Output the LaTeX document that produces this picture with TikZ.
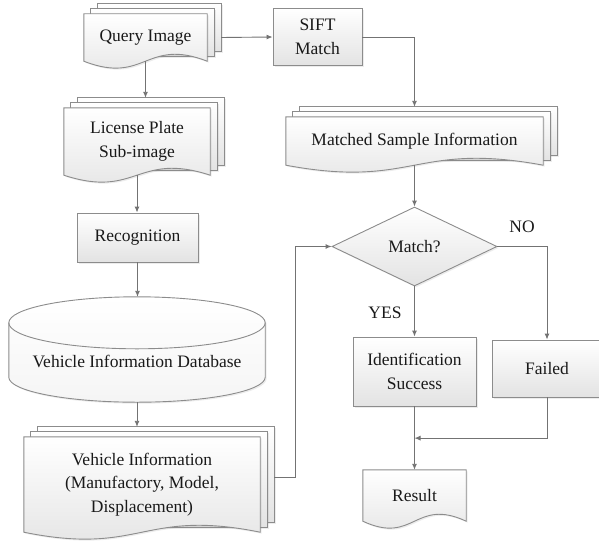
\documentclass[tikz,border=0pt]{standalone}
\usepackage{fontspec}
\setmainfont{Liberation Serif}
\usetikzlibrary{shapes.geometric,arrows.meta,calc,backgrounds,shadows}

\tikzset{
  flowline/.style={draw=black!55, line width=0.9pt},
  arr/.style={flowline, -{Latex[length=6pt,width=5pt]}},
  boxfill/.style={draw=black!45, line width=0.9pt, top color=white, bottom color=black!11,
    drop shadow={opacity=0.15, shadow xshift=1.5pt, shadow yshift=-1.5pt}},
  docnode/.style={rectangle, inner sep=2pt, align=center},
  procbox/.style={rectangle, boxfill, inner sep=2pt, align=center},
  decbox/.style={diamond, boxfill, inner sep=0pt, minimum width=165pt, minimum height=79pt},
  lbl/.style={inner sep=1pt}
}

% back sheet of a stack, k steps behind the front one
\newcommand\backsheet[2]{%
  \path[boxfill] let \p1=(#1.south west), \p2=(#1.north east) in
    (\x1+#2*7pt,\y1+#2*5pt) rectangle (\x2+#2*7pt,\y2+#2*5pt);}
% front sheet with the wavy bottom
\newcommand\docfront[1]{%
  \path[boxfill] let \p1=(#1.south west), \p2=(#1.north east) in
    (\x1,\y2) -- (\x2,\y2) -- (\x2,\y1)
    .. controls ({(\x1+\x2)/2},\y1+24pt) and ({(\x1+\x2)/2},\y1-24pt) .. (\x1,\y1) -- cycle;}
\newcommand\docstack[1]{\backsheet{#1}{2}\backsheet{#1}{1}\docfront{#1}}
% database drum
\newcommand\dbdrum[1]{%
  \path[boxfill, top color=white, bottom color=black!4] let \p1=(#1.south west), \p2=(#1.north east), \n1={(\x2-\x1)/2} in
    (\x1,\y2-26pt) -- (\x1,\y1+25pt) arc[start angle=180, end angle=360, x radius=\n1, y radius=25pt]
    -- (\x2,\y2-26pt) arc[start angle=0, end angle=180, x radius=\n1, y radius=26pt] -- cycle;
  \draw[draw=black!45, line width=0.9pt] let \p1=(#1.south west), \p2=(#1.north east), \n1={(\x2-\x1)/2} in
    (\x1,\y2-26pt) arc[start angle=180, end angle=360, x radius=\n1, y radius=26pt];}

\begin{document}
\begin{tikzpicture}[x=1pt, y=-1pt, font=\fontsize{17.5}{23.5}\selectfont, text=black!90]
\useasboundingbox (0,0) rectangle (599,551);
\clip (0,0) rectangle (599,551);

% left column
\node[docnode, minimum width=123pt, minimum height=47pt] (query) at (145.5,37.5) {Query Image};
\node[docnode, minimum width=146pt, minimum height=67pt] (plate) at (137,141.5) {License Plate\\Sub-image};
\node[procbox, minimum width=121pt, minimum height=49pt] (recog) at (137.5,237.5) {Recognition};
\node[docnode, minimum width=256pt, minimum height=105pt, text height=36pt, text depth=0pt] (db) at (137,349.5) {Vehicle Information Database};
\node[docnode, minimum width=236pt, minimum height=95pt] (vinfo) at (142,484.5) {Vehicle Information\\(Manufactory, Model,\\Displacement)};

% right column
\node[procbox, minimum width=89pt, minimum height=57pt] (sift) at (317.5,37) {SIFT\\Match};
\node[docnode, minimum width=257pt, minimum height=48pt] (sample) at (414.5,141) {Matched Sample Information};
\node[decbox] (dec) at (414.5,246.5) {Match?};
\node[procbox, minimum width=123pt, minimum height=69pt] (success) at (414.5,371.5) {Identification\\Success};
\node[procbox, minimum width=110pt, minimum height=57pt] (failed) at (547,368.5) {Failed};
\node[docnode, minimum width=103pt, minimum height=51pt] (result) at (414.5,495.5) {Result};

\node[lbl] (yes) at (385,313) {YES};
\node[lbl] (no) at (522,227) {NO};

\begin{pgfonlayer}{background}
\docstack{query}
\docstack{plate}
\dbdrum{db}
\docstack{vinfo}
\docstack{sample}
\docfront{result}
\end{pgfonlayer}

% connectors
\draw[arr] ([xshift=14pt]query.east) -- (sift.west);
\draw[arr] (sift.east) -| ([yshift=10pt]sample.north);
\draw[arr] (query.south) -- ([yshift=10pt]query.south |- plate.north);
\draw[arr] (plate.south) -- (plate.south |- recog.north);
\draw[arr] (recog.south) -- (recog.south |- db.north);
\draw[arr] (db.south) -- ([yshift=10pt]db.south |- vinfo.north);
\draw[arr] ([xshift=14pt,yshift=7pt]vinfo.east) -- ++(21,0) |- (dec.west);
\draw[arr] (sample.south) -- (dec.north);
\draw[arr] (dec.south) -- (success.north);
\draw[arr] (dec.east) -| (failed.north);
\draw[arr] (failed.south) |- ($(success.south)!0.5!(result.north)$);
\draw[arr] (success.south) -- (result.north);
\end{tikzpicture}
\end{document}
